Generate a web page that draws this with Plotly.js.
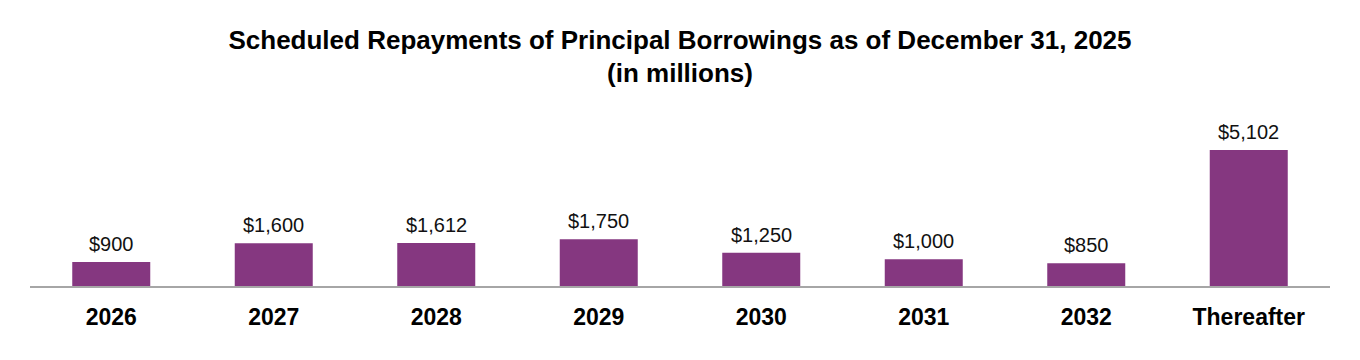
<!DOCTYPE html>
<html>
<head>
<meta charset="utf-8">
<script src="https://cdn.plot.ly/plotly-3.0.1.min.js"></script>
<style>html,body{margin:0;padding:0;background:#fff;}#chart{width:1360px;height:360px;}</style>
</head>
<body>
<div id="chart"></div>
<script>
const categories = ["2026", "2027", "2028", "2029", "2030", "2031", "2032", "Thereafter"];
const repayments = [900, 1600, 1612, 1750, 1250, 1000, 850, 5102];
const valueLabels = ["$900", "$1,600", "$1,612", "$1,750", "$1,250", "$1,000", "$850", "$5,102"];

const barColor = "#853780";
const font = "Liberation Sans, Arial, sans-serif";

const trace = {
  type: "bar",
  x: categories,
  y: repayments,
  marker: {color: barColor},
  width: 0.48,
  hoverinfo: "skip"
};

const annotations = categories.map((c, i) => ({
  x: i, y: repayments[i], xref: "x", yref: "y",
  text: valueLabels[i], showarrow: false,
  yanchor: "bottom", yshift: 5,
  font: {family: font, size: 20, color: "#111"}
}));

const layout = {
  width: 1360, height: 360,
  margin: {l: 30, r: 30, t: 110, b: 74},
  paper_bgcolor: "#fff", plot_bgcolor: "#fff",
  title: {
    text: "<b>Scheduled Repayments of Principal Borrowings as of December 31, 2025<br>(in millions)</b>",
    font: {family: font, size: 26, color: "#000"},
    x: 0.5, xanchor: "center", y: 0.865, yanchor: "top"
  },
  xaxis: {
    type: "category",
    range: [-0.5, categories.length - 0.5],
    showline: true, linecolor: "#A6A6A6", linewidth: 2,
    ticks: "", showgrid: false, zeroline: false,
    tickfont: {family: font, size: 23, color: "#000", weight: "bold"},
    ticklabelstandoff: 9
  },
  yaxis: {
    range: [0, 6600], visible: false, showgrid: false, zeroline: false
  },
  annotations: annotations,
  showlegend: false
};

Plotly.newPlot("chart", [trace], layout, {displayModeBar: false, staticPlot: true});
</script>
</body>
</html>
